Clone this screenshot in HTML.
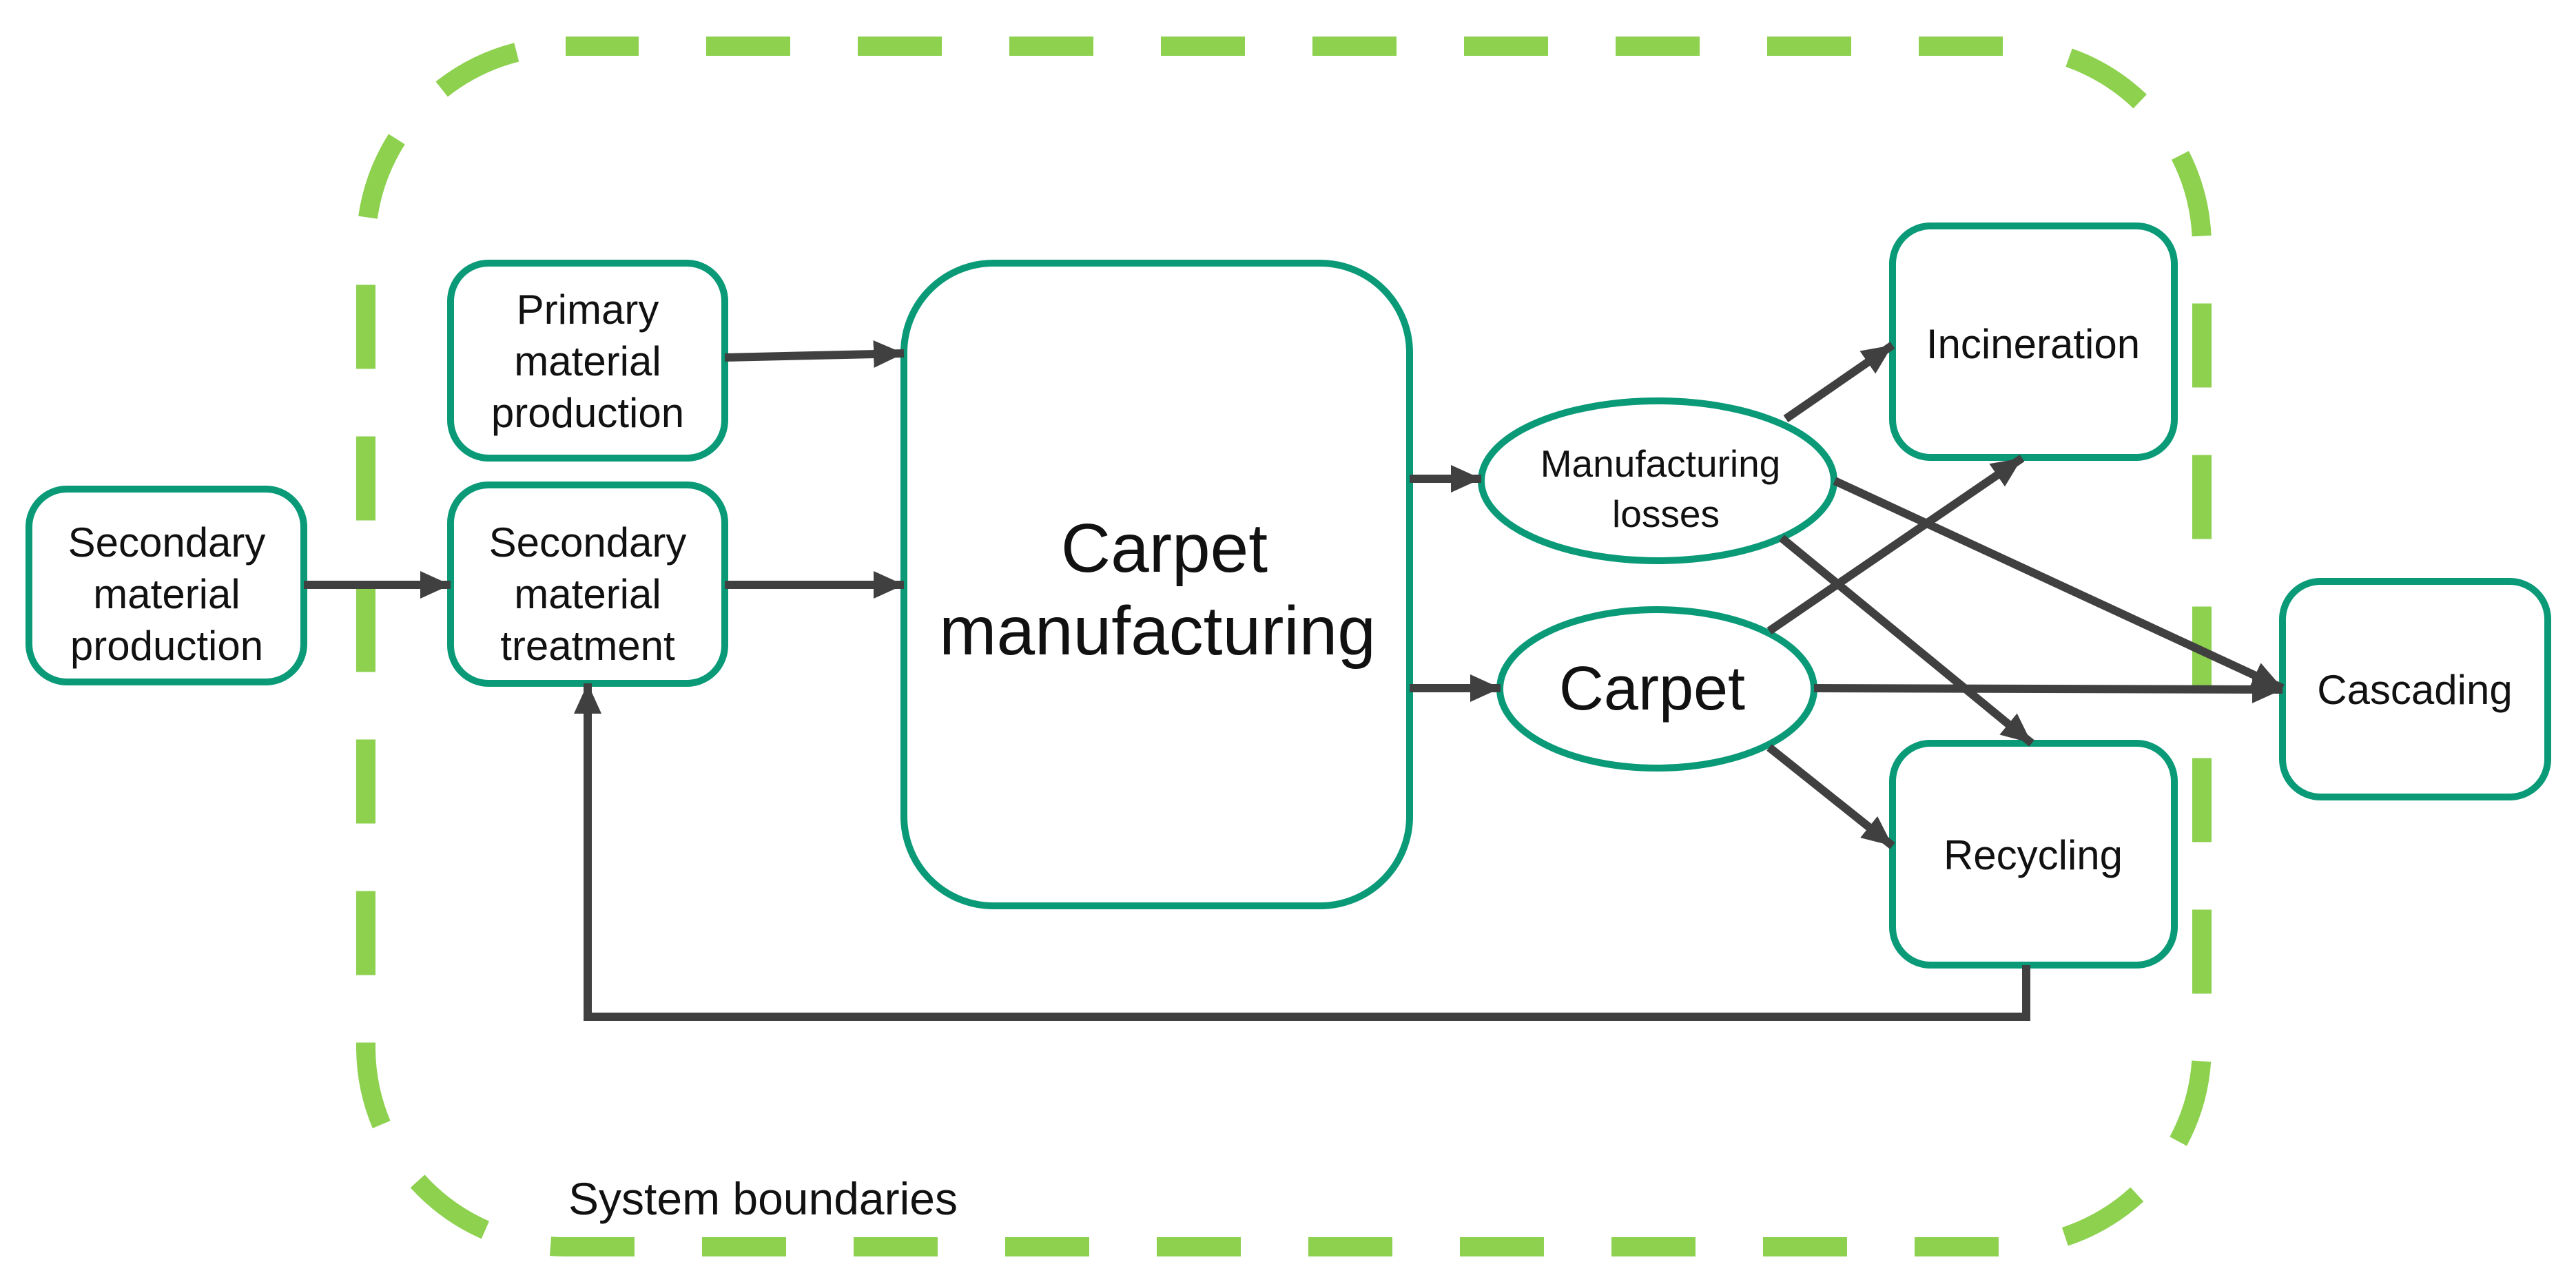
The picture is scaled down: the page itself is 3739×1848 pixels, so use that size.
<!DOCTYPE html>
<html><head><meta charset="utf-8"><style>
html,body{margin:0;padding:0;background:#fff}
svg{display:block}
text{font-family:"Liberation Sans",sans-serif;fill:#111;text-anchor:middle}
</style></head><body>
<svg width="3739" height="1848" viewBox="0 0 3739 1848" xmlns="http://www.w3.org/2000/svg">
<defs>
<marker id="a" markerUnits="userSpaceOnUse" markerWidth="50" markerHeight="50" refX="44" refY="20" orient="auto">
<path d="M0,0 L44,20 L0,40 Z" fill="#404040"/>
</marker>
</defs>
<rect x="531" y="67" width="2665" height="1743" rx="290" ry="290" fill="none" stroke="#8dd14f" stroke-width="28" stroke-dasharray="122 98" stroke-dashoffset="16"/>
<g fill="#fff" stroke="#0a9a78" stroke-width="10">
<rect x="42" y="710" width="399" height="280" rx="55"/>
<rect x="654" y="382" width="398" height="283" rx="55"/>
<rect x="654" y="704" width="398" height="288" rx="55"/>
<rect x="1312" y="382" width="734" height="933" rx="130"/>
<ellipse cx="2406" cy="698" rx="256" ry="116"/>
<ellipse cx="2405" cy="1000" rx="228" ry="115"/>
<rect x="2747" y="328" width="409" height="336" rx="55"/>
<rect x="2747" y="1079" width="409" height="322" rx="55"/>
<rect x="3313" y="844" width="385" height="313" rx="55"/>
</g>
<g stroke="#404040" stroke-width="12" fill="none">
<line x1="441" y1="849" x2="654" y2="849" marker-end="url(#a)"/>
<line x1="1052" y1="519" x2="1312" y2="513" marker-end="url(#a)"/>
<line x1="1052" y1="849" x2="1312" y2="849" marker-end="url(#a)"/>
<line x1="2046" y1="695" x2="2150" y2="695" marker-end="url(#a)"/>
<line x1="2046" y1="999" x2="2178" y2="999" marker-end="url(#a)"/>
<line x1="2592" y1="608" x2="2747" y2="501" marker-end="url(#a)"/>
<line x1="2663" y1="698" x2="3313" y2="999" marker-end="url(#a)"/>
<line x1="2586" y1="781" x2="2949" y2="1079" marker-end="url(#a)"/>
<line x1="2568" y1="916" x2="2935" y2="665" marker-end="url(#a)"/>
<line x1="2633" y1="999" x2="3313" y2="1001" marker-end="url(#a)"/>
<line x1="2568" y1="1085" x2="2747" y2="1228" marker-end="url(#a)"/>
<polyline points="2941,1401 2941,1476 853,1476 853,992" marker-end="url(#a)"/>
</g>
<g font-size="60">
<text x="242" y="808">Secondary</text><text x="242" y="883">material</text><text x="242" y="958">production</text>
<text x="853" y="470">Primary</text><text x="853" y="545">material</text><text x="853" y="620">production</text>
<text x="853" y="808">Secondary</text><text x="853" y="883">material</text><text x="853" y="958">treatment</text>
<text x="2951" y="520">Incineration</text>
<text x="2951" y="1262">Recycling</text>
<text x="3505" y="1022">Cascading</text>
<text x="2410" y="692" font-size="55">Manufacturing</text><text x="2418" y="765" font-size="55">losses</text>
</g>
<text x="1690" y="830" font-size="100">Carpet</text>
<text x="1680" y="950" font-size="100">manufacturing</text>
<text x="2398" y="1030" font-size="90">Carpet</text>
<text x="825" y="1763" font-size="66" style="text-anchor:start">System boundaries</text>
</svg>
</body></html>
